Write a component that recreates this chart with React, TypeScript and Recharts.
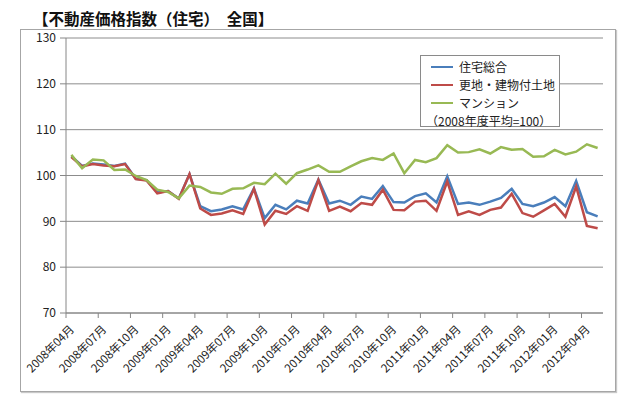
import React from "react";
import {
  LineChart,
  Line,
  XAxis,
  YAxis,
  CartesianGrid,
} from "recharts";

const FONT = '"Noto Sans CJK JP", "Noto Sans", sans-serif';

// 2008年04月 .. 2012年05月, one entry per month
const months: string[] = [];
for (let i = 0; i < 50; i++) {
  const m = 3 + i;
  const y = 2008 + Math.floor(m / 12);
  const mm = (m % 12) + 1;
  months.push(`${y}年${String(mm).padStart(2, "0")}月`);
}

const tickLabels = [
  "2008年04月", "2008年07月", "2008年10月", "2009年01月", "2009年04月",
  "2009年07月", "2009年10月", "2010年01月", "2010年04月", "2010年07月",
  "2010年10月", "2011年01月", "2011年04月", "2011年07月", "2011年10月",
  "2012年01月", "2012年04月",
];

const housingTotal = [
  104.2, 102.1, 102.6, 102.4, 102.1, 102.6, 99.3, 99.0, 96.3, 96.6,
  95.0, 100.3, 93.3, 92.2, 92.6, 93.3, 92.6, 97.2, 90.7, 93.6,
  92.6, 94.5, 93.9, 99.1, 93.9, 94.5, 93.6, 95.4, 94.9, 97.7,
  94.2, 94.1, 95.5, 96.1, 94.1, 99.8, 93.8, 94.1, 93.6, 94.3,
  95.1, 97.1, 93.8, 93.3, 94.1, 95.3, 93.3, 98.8, 92.0, 91.1,
];

const landAndHouse = [
  104.0, 102.0, 102.5, 102.2, 102.0, 102.5, 99.2, 98.9, 96.1, 96.6,
  94.9, 100.3, 92.8, 91.4, 91.7, 92.4, 91.6, 97.1, 89.3, 92.3,
  91.6, 93.3, 92.3, 99.0, 92.3, 93.2, 92.2, 94.0, 93.6, 96.9,
  92.5, 92.4, 94.3, 94.5, 92.3, 98.7, 91.4, 92.2, 91.4, 92.5,
  93.0, 96.0, 91.8, 91.0, 92.4, 93.8, 91.0, 97.6, 89.0, 88.5,
];

const condo = [
  104.5, 101.6, 103.5, 103.3, 101.2, 101.3, 99.9, 99.0, 96.9, 96.4,
  95.0, 97.8, 97.5, 96.3, 96.0, 97.1, 97.2, 98.4, 98.1, 100.4,
  98.2, 100.5, 101.3, 102.2, 100.8, 100.8, 102.0, 103.1, 103.8, 103.4,
  104.8, 100.5, 103.4, 102.9, 103.8, 106.6, 105.0, 105.1, 105.7, 104.8,
  106.2, 105.6, 105.8, 104.1, 104.2, 105.6, 104.6, 105.2, 106.8, 106.0,
];

const yTicks = [70, 80, 90, 100, 110, 120, 130];

const SERIES = [
  { key: "total", name: "住宅総合", color: "#4a7ebb" },
  { key: "land", name: "更地・建物付土地", color: "#be4b48" },
  { key: "condo", name: "マンション", color: "#98b954" },
];

// points sit in the middle of each month slot, like Excel's category axis
const data = months.map((month, i) => ({
  x: i + 0.5,
  month,
  total: housingTotal[i],
  land: landAndHouse[i],
  condo: condo[i],
}));

const MonthTick = ({ x, y, payload }: any) => {
  const label = tickLabels[Math.round(payload.value / 3)];
  return (
    <g transform={`translate(${x + 9},${y + 10})`}>
      <text
        transform="rotate(-45)"
        textAnchor="end"
        fontSize={11.5}
        fill="#222"
        fontFamily={FONT}
      >
        {label}
      </text>
    </g>
  );
};

const LegendBox = () => (
  <div
    style={{
      position: "absolute",
      left: 420,
      top: 55,
      width: 140,
      height: 72,
      border: "1px solid #8a8a8a",
      background: "#fff",
      fontFamily: FONT,
      fontSize: 12,
      color: "#222",
      boxSizing: "border-box",
      padding: "2px 0 0 5px",
      lineHeight: "18px",
      whiteSpace: "nowrap",
    }}
  >
    {SERIES.map((s) => (
      <div key={s.key} style={{ display: "flex", alignItems: "center" }}>
        <div
          style={{
            width: 22,
            height: 2,
            background: s.color,
            marginLeft: 5,
            marginRight: 6,
          }}
        />
        <span>{s.name}</span>
      </div>
    ))}
    <div>（2008年度平均=100）</div>
  </div>
);

export default function App() {
  return (
    <div
      style={{
        position: "absolute",
        left: 0,
        top: 0,
        width: 640,
        height: 398,
        background: "#fff",
      }}
    >
      <div
        style={{
          position: "absolute",
          left: 33,
          top: 7,
          fontFamily: FONT,
          fontWeight: "bold",
          fontSize: 15.5,
          color: "#111",
          whiteSpace: "nowrap",
        }}
      >
        【不動産価格指数（住宅）　全国】
      </div>
      <div
        style={{
          position: "absolute",
          left: 20,
          top: 29,
          width: 594,
          height: 361,
          border: "1px solid #a6a6a6",
          boxShadow: "1px 1px 1px #c8c8c8",
        }}
      />
      <div style={{ position: "absolute", left: 0, top: 0 }}>
        <LineChart
          width={640}
          height={398}
          data={data}
          margin={{ top: 38, right: 37, bottom: 0, left: 6 }}
        >
          <CartesianGrid
            horizontal
            vertical={false}
            stroke="#8c8c8c"
            strokeWidth={1}
          />
          <XAxis
            type="number"
            dataKey="x"
            domain={[0, 50]}
            ticks={[0, 3, 6, 9, 12, 15, 18, 21, 24, 27, 30, 33, 36, 39, 42, 45, 48]}
            interval={0}
            height={85}
            tick={<MonthTick />}
            tickSize={5}
            stroke="#868686"
            allowDataOverflow
          />
          <YAxis
            domain={[70, 130]}
            ticks={yTicks}
            width={60}
            tickSize={6}
            tickMargin={4}
            stroke="#868686"
            tick={{ fontSize: 12, fill: "#222", fontFamily: FONT }}
          />
          {SERIES.map((s) => (
            <Line
              key={s.key}
              type="linear"
              dataKey={s.key}
              name={s.name}
              stroke={s.color}
              strokeWidth={2.5}
              dot={false}
              isAnimationActive={false}
            />
          ))}
        </LineChart>
      </div>
      <LegendBox />
    </div>
  );
}
